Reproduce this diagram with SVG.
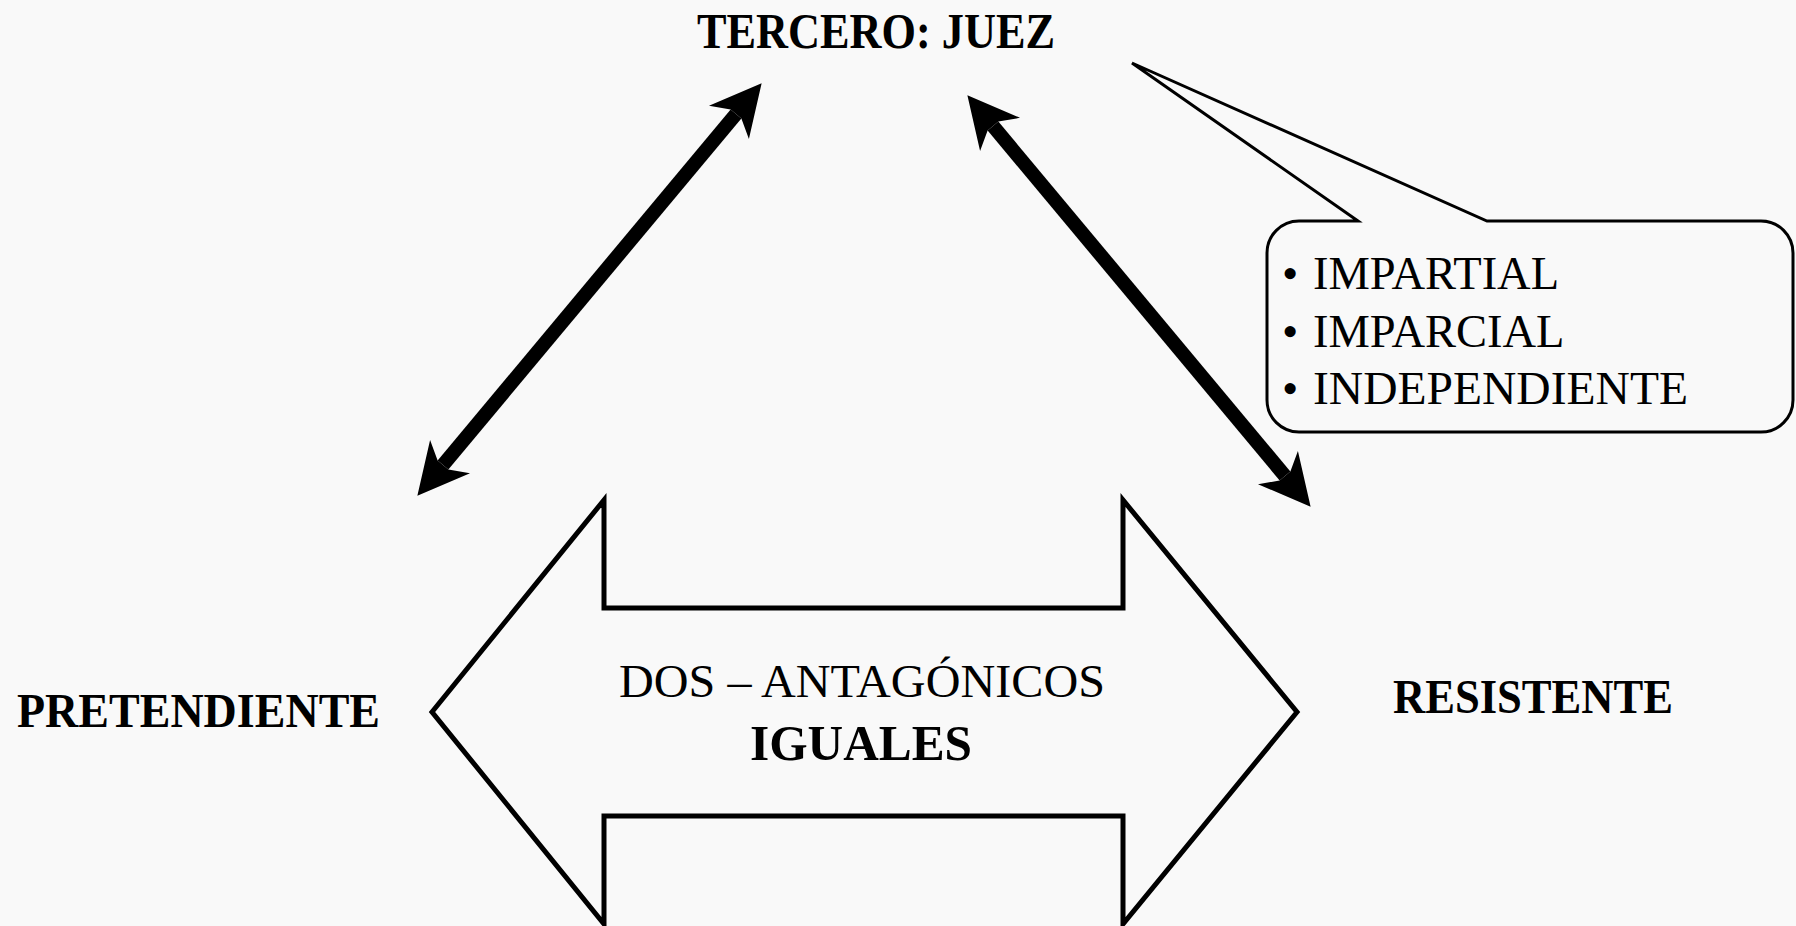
<svg xmlns="http://www.w3.org/2000/svg" width="1796" height="926" viewBox="0 0 1796 926">
  <style>
    .bold { font-family: "Liberation Serif", "Times New Roman", serif; font-weight: bold; fill: #000; }
    .reg { font-family: "Liberation Serif", "Times New Roman", serif; font-weight: normal; fill: #000; }
    .conn { stroke: #000; stroke-width: 14; fill: none; }
    .outline { stroke: #000; fill: none; stroke-linejoin: miter; }
  </style>
  <defs>
    <marker id="head" markerUnits="userSpaceOnUse" markerWidth="70" markerHeight="70" viewBox="-20 -35 70 70" refX="0" refY="0" orient="auto-start-reverse" overflow="visible">
      <path d="M40,0 L-11,-26 L0,-7 L0,7 L-11,26 Z" fill="#000"/>
    </marker>
  </defs>
  <rect x="0" y="0" width="1796" height="926" fill="#f9f9f9"/>

  <g id="connectors">
    <line class="conn" x1="443" y1="465" x2="736" y2="114" marker-start="url(#head)" marker-end="url(#head)"/>
    <line class="conn" x1="993" y1="126" x2="1285" y2="476" marker-start="url(#head)" marker-end="url(#head)"/>
  </g>

  <g id="node-juez">
    <text class="bold" x="697" y="48" font-size="50" textLength="358" lengthAdjust="spacingAndGlyphs">TERCERO: JUEZ</text>
  </g>

  <g id="node-callout">
    <path class="outline" stroke-width="3" d="M1358,221 L1132,63 L1487,221 L1761,221 A32,32 0 0 1 1793,253 L1793,400 A32,32 0 0 1 1761,432 L1299,432 A32,32 0 0 1 1267,400 L1267,253 A32,32 0 0 1 1299,221 Z"/>
    <text class="reg" font-size="46.5" x="1282" y="289">•<tspan x="1313">IMPARTIAL</tspan></text>
    <text class="reg" font-size="46.5" x="1282" y="347">•<tspan x="1313">IMPARCIAL</tspan></text>
    <text class="reg" font-size="46.5" x="1282" y="404">•<tspan x="1313" textLength="375" lengthAdjust="spacingAndGlyphs">INDEPENDIENTE</tspan></text>
  </g>

  <g id="node-antagonicos">
    <path class="outline" stroke-width="5" d="M432,712 L604,500 L604,608 L1123,608 L1123,500 L1297,712 L1123,924 L1123,816 L604,816 L604,924 Z"/>
    <text class="reg" x="619" y="697" font-size="46" textLength="486" lengthAdjust="spacingAndGlyphs">DOS – ANTAGÓNICOS</text>
    <text class="bold" x="750" y="760" font-size="50" textLength="222" lengthAdjust="spacingAndGlyphs">IGUALES</text>
  </g>

  <g id="node-pretendiente">
    <text class="bold" x="17" y="727" font-size="48" textLength="363" lengthAdjust="spacingAndGlyphs">PRETENDIENTE</text>
  </g>

  <g id="node-resistente">
    <text class="bold" x="1393" y="713" font-size="48" textLength="280" lengthAdjust="spacingAndGlyphs">RESISTENTE</text>
  </g>
</svg>
